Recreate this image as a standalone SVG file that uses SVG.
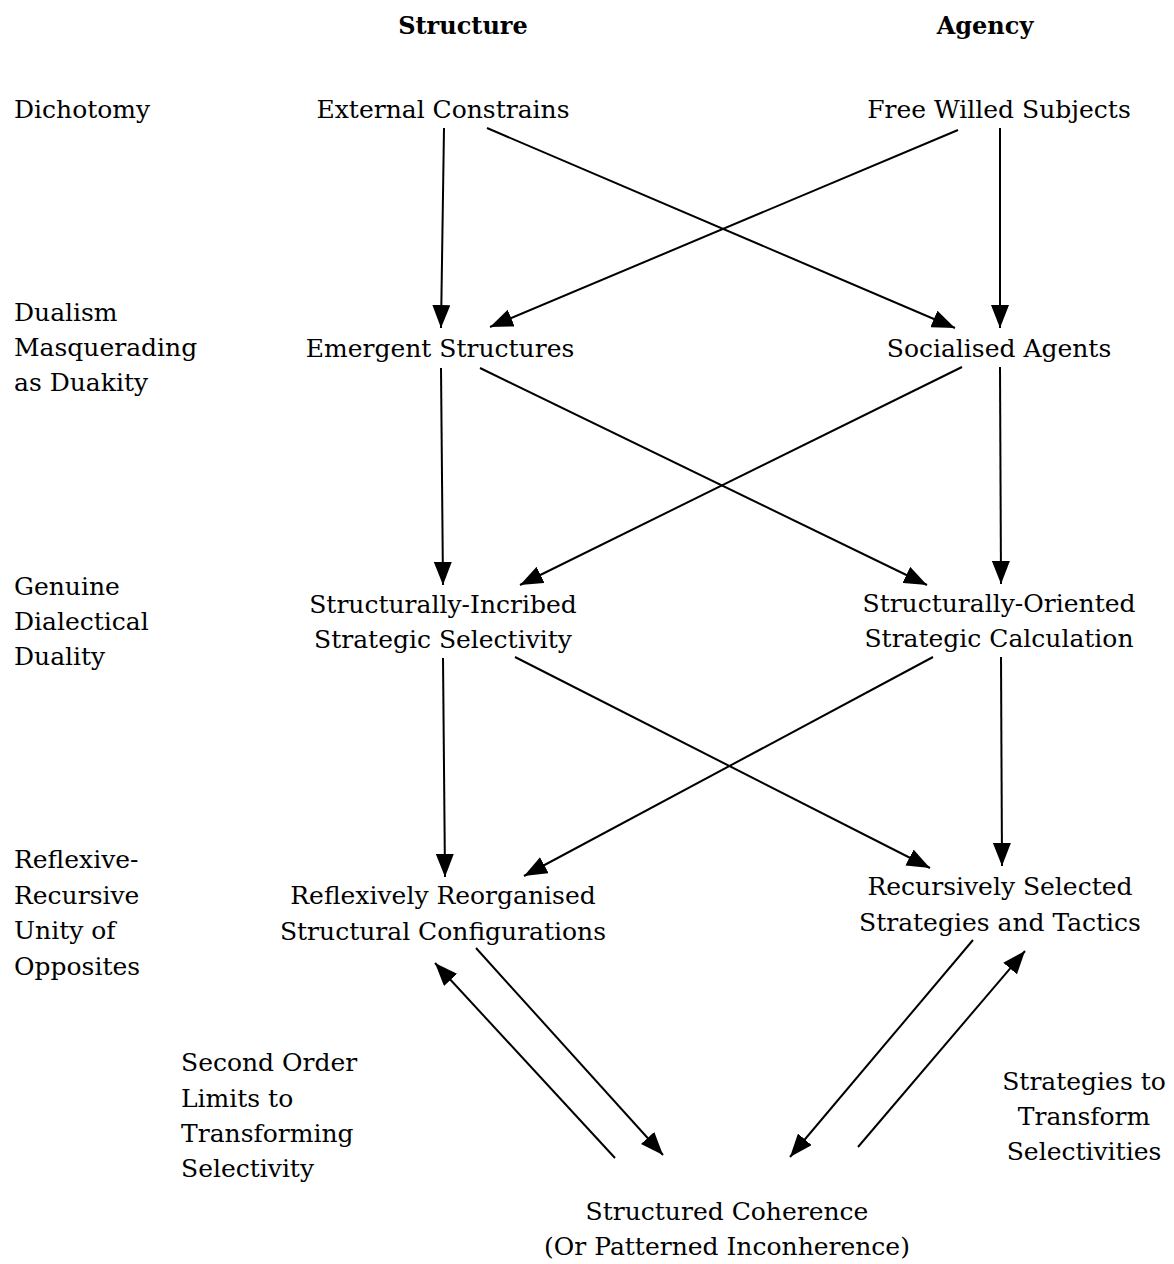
<svg xmlns="http://www.w3.org/2000/svg" width="1174" height="1264" viewBox="0 0 1174 1264">
  <style>
    text { font-family: "DejaVu Serif", "Liberation Serif", serif; font-size: 25px; fill: #000; }
    .head { font-weight: bold; font-size: 24px; text-anchor: middle; }
    .mid { text-anchor: middle; }
    .side { text-anchor: start; }
    .link { stroke: #000; stroke-width: 2; fill: none; marker-end: url(#arrow); }
  </style>
  <defs>
    <marker id="arrow" viewBox="0 0 23 18" refX="23" refY="9" markerWidth="23" markerHeight="18" markerUnits="userSpaceOnUse" orient="auto">
      <path d="M0,0 L23,9 L0,18 z" fill="#000"/>
    </marker>
  </defs>
  <rect width="1174" height="1264" fill="#fff"/>

  <!-- column headings -->
  <g id="headings">
    <text class="head" x="463" y="34">Structure</text>
    <text class="head" x="985" y="34">Agency</text>
  </g>

  <!-- row labels -->
  <g id="row-dichotomy">
    <text class="side" x="14" y="118">Dichotomy</text>
  </g>
  <g id="row-dualism">
    <text class="side" x="14" y="321">Dualism</text>
    <text class="side" x="14" y="356">Masquerading</text>
    <text class="side" x="14" y="391">as Duakity</text>
  </g>
  <g id="row-duality">
    <text class="side" x="14" y="595">Genuine</text>
    <text class="side" x="14" y="630">Dialectical</text>
    <text class="side" x="14" y="665">Duality</text>
  </g>
  <g id="row-unity">
    <text class="side" x="14" y="868">Reflexive-</text>
    <text class="side" x="14" y="904">Recursive</text>
    <text class="side" x="14" y="939">Unity of</text>
    <text class="side" x="14" y="975">Opposites</text>
  </g>

  <!-- nodes -->
  <g id="external-constrains">
    <text class="mid" x="443" y="118">External Constrains</text>
  </g>
  <g id="free-willed-subjects">
    <text class="mid" x="999" y="118">Free Willed Subjects</text>
  </g>
  <g id="emergent-structures">
    <text class="mid" x="440" y="357">Emergent Structures</text>
  </g>
  <g id="socialised-agents">
    <text class="mid" x="999" y="357">Socialised Agents</text>
  </g>
  <g id="strategic-selectivity">
    <text class="mid" x="443" y="613">Structurally-Incribed</text>
    <text class="mid" x="443" y="648">Strategic Selectivity</text>
  </g>
  <g id="strategic-calculation">
    <text class="mid" x="999" y="612">Structurally-Oriented</text>
    <text class="mid" x="999" y="647">Strategic Calculation</text>
  </g>
  <g id="structural-configurations">
    <text class="mid" x="443" y="904">Reflexively Reorganised</text>
    <text class="mid" x="443" y="940">Structural Configurations</text>
  </g>
  <g id="strategies-tactics">
    <text class="mid" x="1000" y="895">Recursively Selected</text>
    <text class="mid" x="1000" y="931">Strategies and Tactics</text>
  </g>
  <g id="structured-coherence">
    <text class="mid" x="727" y="1220">Structured Coherence</text>
    <text class="mid" x="727" y="1255">(Or Patterned Inconherence)</text>
  </g>

  <!-- loop labels -->
  <g id="second-order-limits">
    <text class="side" x="181" y="1071">Second Order</text>
    <text class="side" x="181" y="1107">Limits to</text>
    <text class="side" x="181" y="1142">Transforming</text>
    <text class="side" x="181" y="1177">Selectivity</text>
  </g>
  <g id="transform-strategies">
    <text class="mid" x="1084" y="1090">Strategies to</text>
    <text class="mid" x="1084" y="1125">Transform</text>
    <text class="mid" x="1084" y="1160">Selectivities</text>
  </g>

  <!-- connectors -->
  <g id="connectors">
    <line class="link" x1="444" y1="128" x2="441" y2="328"/>
    <line class="link" x1="487" y1="128" x2="955" y2="328"/>
    <line class="link" x1="958" y1="130" x2="490" y2="327"/>
    <line class="link" x1="1000" y1="128" x2="1000" y2="328"/>

    <line class="link" x1="441" y1="368" x2="443" y2="585"/>
    <line class="link" x1="480" y1="368" x2="927" y2="585"/>
    <line class="link" x1="962" y1="367" x2="520" y2="585"/>
    <line class="link" x1="1000" y1="367" x2="1001" y2="584"/>

    <line class="link" x1="443" y1="658" x2="445" y2="877"/>
    <line class="link" x1="515" y1="657" x2="930" y2="868"/>
    <line class="link" x1="933" y1="657" x2="524" y2="876"/>
    <line class="link" x1="1001" y1="657" x2="1002" y2="866"/>

    <line class="link" x1="615" y1="1158" x2="435" y2="963"/>
    <line class="link" x1="476" y1="948" x2="663" y2="1155"/>
    <line class="link" x1="973" y1="940" x2="790" y2="1157"/>
    <line class="link" x1="858" y1="1147" x2="1025" y2="951"/>
  </g>
</svg>
